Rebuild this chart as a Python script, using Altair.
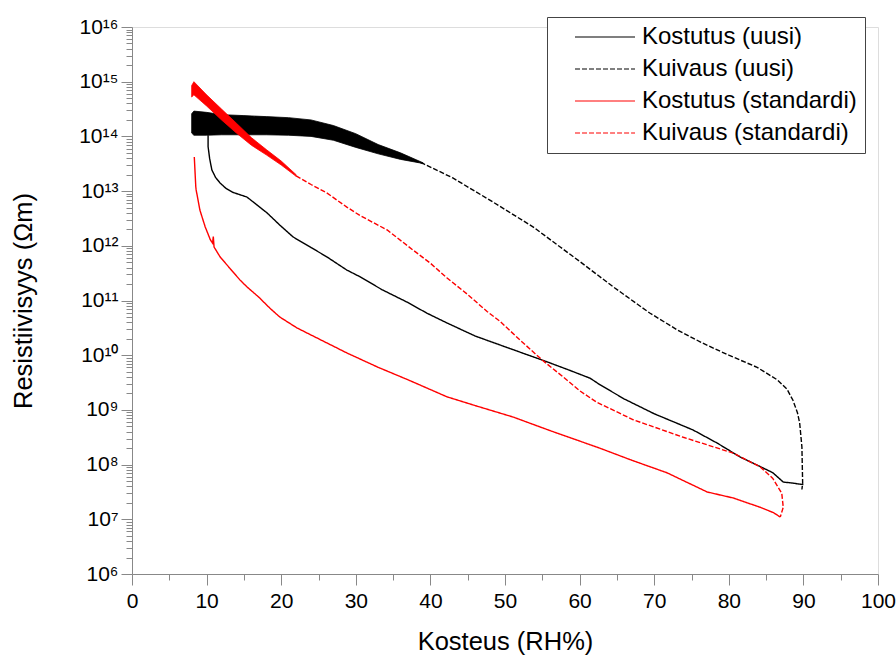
import altair as alt
import pandas as pd

SERIES = ["Kostutus (uusi)", "Kuivaus (uusi)", "Kostutus (standardi)", "Kuivaus (standardi)"]
COLORS = ["#000000", "#020202", "#ff0000", "#fd0000"]
DASHES = [[1, 0], [5, 2], [1.01, 0], [5, 2.01]]

# --- Kostutus (uusi): black solid (lower black curve)
ku_rh = [10.2, 10.2, 10.4, 10.7, 11.2, 11.8, 12.6, 13.5, 15.4, 18.1, 19.8, 21.6, 24.0, 26.1,
         28.8, 30.6, 33.5, 36.9, 39.5, 42.2, 46.0, 51.1, 55.6, 58.5, 61.4, 62.7, 66.0, 70.0,
         75.2, 78.5, 81.5, 84.0, 85.9, 87.3, 88.5, 90.0]
ku_r = [1.05e14, 6.5e13, 4.0e13, 2.45e13, 1.78e13, 1.41e13, 1.12e13, 9.5e12, 7.8e12, 4.0e12,
        2.4e12, 1.45e12, 9.3e11, 6.3e11, 3.6e11, 2.7e11, 1.58e11, 9.3e10, 5.9e10, 3.9e10,
        2.24e10, 1.26e10, 7.6e9, 5.4e9, 3.8e9, 2.9e9, 1.58e9, 8.5e8, 4.3e8, 2.45e8, 1.38e8,
        9.5e7, 7.1e7, 4.8e7, 4.6e7, 4.3e7]

# --- Kuivaus (uusi): black dashed (upper black curve)
kv_rh = [36.0, 39.0, 43.0, 48.4, 53.8, 57.4, 60.0, 64.5, 69.4, 73.1, 76.5, 80.0, 83.8, 86.5,
         87.8, 88.6, 89.2, 89.5, 89.8, 89.9, 89.8]
kv_r = [4.4e13, 3.2e13, 1.74e13, 6.3e12, 2.2e12, 9.5e11, 5.2e11, 1.78e11, 5.9e10, 2.9e10,
        1.66e10, 1.0e10, 6.0e9, 3.55e9, 2.4e9, 1.5e9, 8.9e8, 5.75e8, 2.1e8, 4.6e7, 3.5e7]
# noisy low-humidity band of Kuivaus (uusi): envelope
kv_band_rh = [8.0, 8.3, 10.0, 12.0, 15.0, 18.0, 21.0, 24.0, 27.0, 30.0, 33.0, 36.0, 39.0]
kv_band_top = [2.6e14, 2.9e14, 2.75e14, 2.5e14, 2.4e14, 2.3e14, 2.2e14, 2.0e14, 1.58e14,
               1.12e14, 7.1e13, 5.0e13, 3.3e13]
kv_band_bot = [1.15e14, 1.05e14, 1.05e14, 1.07e14, 1.07e14, 1.07e14, 1.05e14, 1.0e14, 8.5e13,
               6.3e13, 4.8e13, 3.8e13, 3.2e13]

# --- Kostutus (standardi): red solid (lower red curve)
ks_rh = [8.35, 8.55, 8.6, 9.1, 9.8, 10.5, 10.8, 10.9, 11.0, 11.8, 13.1, 14.5, 15.4, 17.0, 18.5,
         19.8, 22.1, 25.0, 28.8, 33.0, 37.0, 42.2, 46.0, 51.1, 56.0, 62.7, 67.0, 71.7, 77.1,
         80.6, 84.2, 86.0, 86.9]
ks_r = [4.2e13, 1.2e13, 1.05e13, 4.5e12, 2.24e12, 1.29e12, 1.12e12, 1.48e12, 9.5e11, 6.3e11,
        3.9e11, 2.35e11, 1.78e11, 1.15e11, 7.2e10, 5.0e10, 3.16e10, 2.0e10, 1.1e10, 6.0e9,
        3.55e9, 1.74e9, 1.2e9, 7.4e8, 4.2e8, 2.0e8, 1.2e8, 7.1e7, 3.16e7, 2.45e7, 1.66e7,
        1.32e7, 1.1e7]

# --- Kuivaus (standardi): red dashed (upper red curve)
ksv_rh = [22.0, 24.0, 26.1, 28.8, 30.6, 34.2, 37.7, 40.0, 42.2, 44.9, 47.6, 49.3, 52.0, 55.1,
          57.8, 60.0, 62.3, 67.2, 73.9, 80.6, 84.2, 85.9, 87.1, 87.3, 86.9]
ksv_r = [1.9e13, 1.32e13, 9.3e12, 5.1e12, 3.55e12, 1.95e12, 8.3e11, 4.8e11, 2.6e11, 1.32e11,
         6.3e10, 4.2e10, 1.9e10, 7.9e9, 4.0e9, 2.24e9, 1.38e9, 6.6e8, 3.16e8, 1.62e8, 9.1e7,
         5.6e7, 3.0e7, 1.66e7, 1.1e7]
# noisy low-humidity band of Kuivaus (standardi): envelope
ksv_band_rh = [8.0, 8.3, 10.0, 12.0, 14.0, 16.0, 18.0, 20.0, 22.0]
ksv_band_top = [8.5e14, 1.0e15, 5.75e14, 3.16e14, 1.74e14, 9.5e13, 5.75e13, 3.55e13, 2.0e13]
ksv_band_bot = [5.25e14, 5.75e14, 3.6e14, 2.0e14, 1.15e14, 6.9e13, 4.6e13, 3.0e13, 1.86e13]

# axis ticks (major + minor)
X_TICKS = list(range(0, 101, 5))
Y_TICKS = [k * 10.0 ** e for e in range(6, 16) for k in range(1, 10)] + [1e16]
SUP = ["⁶", "⁷", "⁸", "⁹", "¹⁰", "¹¹", "¹²", "¹³", "¹⁴", "¹⁵", "¹⁶"]

FONT = "Liberation Sans"

rows = []
for name, xs, ys in [(SERIES[0], ku_rh, ku_r), (SERIES[1], kv_rh, kv_r),
                     (SERIES[2], ks_rh, ks_r), (SERIES[3], ksv_rh, ksv_r)]:
    for i, (a, b) in enumerate(zip(xs, ys)):
        rows.append({"RH": a, "R": b, "series": name, "idx": i})
lines_df = pd.DataFrame(rows)

band_uusi = pd.DataFrame({"RH": kv_band_rh, "top": kv_band_top, "bot": kv_band_bot})
band_std = pd.DataFrame({"RH": ksv_band_rh, "top": ksv_band_top, "bot": ksv_band_bot})

xscale = alt.Scale(domain=[0, 100], nice=False, zero=False)
yscale = alt.Scale(type="log", domain=[1e6, 1e16], nice=False)

is_decade = "abs(log(datum.value)/LN10 - round(log(datum.value)/LN10)) < 0.001"
sup_arr = "[" + ",".join("'" + s + "'" for s in SUP) + "]"
y_label_expr = (is_decade + " ? '10' + " + sup_arr +
                "[round(log(datum.value)/LN10) - 6] : ''")
x_label_expr = "datum.value % 10 == 0 ? format(datum.value, 'd') : ''"

x_axis = alt.Axis(
    values=X_TICKS, tickCount=1000, labelPadding=5, labelExpr=x_label_expr,
    tickSize={"condition": {"test": "datum.value % 10 == 0", "value": 11}, "value": 6},
    title="Kosteus (RH%)", titlePadding=18, labelFontSize=21, titleFontSize=25.5,
    titleFontWeight="normal", grid=False, labelFlush=False, labelOverlap=False,
)
y_axis = alt.Axis(
    values=Y_TICKS, tickCount=1000, labelPadding=3, labelExpr=y_label_expr,
    tickSize={"condition": {"test": is_decade, "value": 11}, "value": 6},
    title="Resistiivisyys (Ωm)", titlePadding=42, labelFontSize=21, titleFontSize=25.5,
    titleFontWeight="normal", grid=False, labelFlush=False, labelOverlap=False,
)

color_scale = alt.Scale(domain=SERIES, range=COLORS)
dash_scale = alt.Scale(domain=SERIES, range=DASHES)

legend = alt.Legend(
    title=None, orient="none", legendX=415, legendY=-10, padding=8,
    labelFontSize=24, labelFont=FONT, labelLimit=400, labelColor="black",
    symbolType="M-6,0H6", symbolSize=100, symbolStrokeWidth=1.2,
    symbolOffset=38, labelOffset=25, rowPadding=8,
    strokeColor="#444", fillColor="white",
)

band1 = alt.Chart(band_uusi).mark_area(color="black", stroke="black", strokeWidth=0.8).encode(
    x=alt.X("RH:Q", scale=xscale, axis=x_axis),
    y=alt.Y("top:Q", scale=yscale, axis=y_axis),
    y2="bot:Q",
)
band2 = alt.Chart(band_std).mark_area(color="red", stroke="red", strokeWidth=0.8).encode(
    x=alt.X("RH:Q", scale=xscale, axis=x_axis),
    y=alt.Y("top:Q", scale=yscale, axis=y_axis),
    y2="bot:Q",
)

lines = alt.Chart(lines_df).mark_line(strokeWidth=1.4).encode(
    x=alt.X("RH:Q", scale=xscale, axis=x_axis),
    y=alt.Y("R:Q", scale=yscale, axis=y_axis),
    color=alt.Color("series:N", scale=color_scale, legend=legend, sort=SERIES),
    strokeDash=alt.StrokeDash("series:N", scale=dash_scale, legend=legend, sort=SERIES),
    order="idx:Q",
)

chart = alt.layer(band1, band2, lines).properties(
    width=746, height=547,
    autosize=alt.AutoSizeParams(type="none"),
    padding={"left": 132, "top": 27, "right": 18, "bottom": 83},
).configure_view(stroke=None).configure_axis(
    domainColor="black", domainWidth=2, tickColor="black", tickWidth=2,
    labelColor="black", titleColor="black", labelFont=FONT, titleFont=FONT,
    titleFontWeight="normal",
).configure(background="white")

chart.save("out.html", embed_options={"renderer": "svg", "actions": False})
